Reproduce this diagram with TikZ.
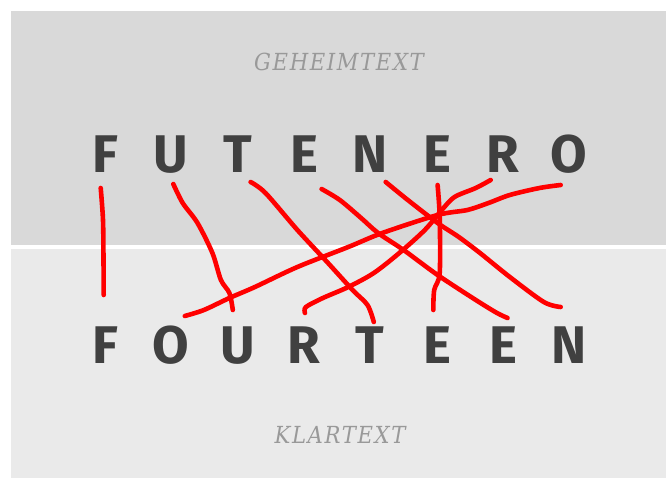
\documentclass[tikz,border=0pt]{standalone}
\usepackage{fontspec}
\newfontfamily\letterfont{Fira Sans}[UprightFont=* Bold]
\newfontfamily\labelfont{DejaVu Serif Condensed}[LetterSpace=7]
\definecolor{topbg}{HTML}{D9D9D9}
\definecolor{botbg}{HTML}{EAEAEA}
\definecolor{lettercol}{HTML}{404040}
\definecolor{labelcol}{HTML}{999999}
\definecolor{penred}{HTML}{FF0000}
\tikzset{
  letter/.style={anchor=base, inner sep=0pt, text=lettercol, font=\letterfont\fontsize{53}{53}\selectfont},
  caption/.style={anchor=base, inner sep=0pt, text=labelcol, font=\labelfont\itshape\fontsize{23.5}{23.5}\selectfont},
  pen/.style={draw=penred, line width=4.6pt, line cap=round, line join=round}
}
\begin{document}
\begin{tikzpicture}[x=1pt,y=-1pt]
\useasboundingbox (0,0) rectangle (666,478);
\fill[white] (0,0) rectangle (666,478);
\fill[topbg] (11,11) rectangle (666,245);
\fill[botbg] (11,249) rectangle (666,478);

\node[caption] (geheim) at (339,71) {GEHEIMTEXT};
\node[caption] (klar) at (340,443) {KLARTEXT};

% cipher text
\node[letter] (t1) at (105,173) {F};
\node[letter] (t2) at (171,173) {U};
\node[letter] (t3) at (238,173) {T};
\node[letter] (t4) at (304,173) {E};
\node[letter] (t5) at (370,173) {N};
\node[letter] (t6) at (437,173) {E};
\node[letter] (t7) at (503,173) {R};
\node[letter] (t8) at (569,173) {O};
% plain text
\node[letter] (b1) at (105,363) {F};
\node[letter] (b2) at (171,363) {O};
\node[letter] (b3) at (238,363) {U};
\node[letter] (b4) at (304,363) {R};
\node[letter] (b5) at (370,363) {T};
\node[letter] (b6) at (437,363) {E};
\node[letter] (b7) at (503,363) {E};
\node[letter] (b8) at (569,363) {N};

% hand drawn strokes
\draw[pen] plot[smooth, tension=0.5] coordinates {(100.7,188) (103,220) (103.5,260) (103.7,295)};
\draw[pen] plot[smooth, tension=0.5] coordinates {(173.3,184) (182.7,203) (197.5,223) (212.4,253) (220.9,280) (229.4,293) (232.8,310)};
\draw[pen] plot[smooth, tension=0.5] coordinates {(250.6,182) (265.5,193) (297.4,230) (327.1,262) (352.6,290) (367.5,305) (373.8,322)};
\draw[pen] plot[smooth, tension=0.5] coordinates {(321.6,189) (339.8,200) (361.1,218) (378.1,233) (403.6,250) (437.6,275) (475.8,300) (497,313) (507.6,318)};
\draw[pen] plot[smooth, tension=0.5] coordinates {(385.7,182) (407.8,200) (437.6,223) (458.8,237) (480,253) (509.8,277) (543.8,302) (560.7,307)};
\draw[pen] plot[smooth, tension=0.5] coordinates {(437.6,185) (439.7,217) (439.7,273) (434.2,290) (433.3,310)};
\draw[pen] plot[smooth, tension=0.5] coordinates {(490.7,180) (475.8,188) (454.5,197) (441.8,210) (424.8,230) (399.3,253) (373.8,273) (348.3,287) (322.9,298) (305.9,307) (305,313)};
\draw[pen] plot[smooth, tension=0.5] coordinates {(560.7,185) (539.5,188) (509.8,195) (488.5,203) (467.3,210) (437.6,215) (382.3,233) (348.3,247) (297.4,267) (254.9,287) (229.4,298) (203.9,310) (184.8,316)};
\end{tikzpicture}
\end{document}
